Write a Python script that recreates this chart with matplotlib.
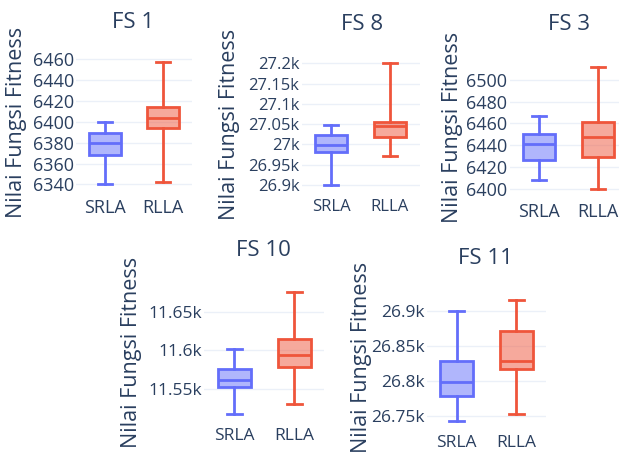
import matplotlib.pyplot as plt
from matplotlib.colors import to_rgb

plt.rcParams['font.family'] = ['Open Sans', 'DejaVu Sans']

judul = ['FS 1', 'FS 8', 'FS 3', 'FS 10', 'FS 11']
metode = ['SRLA', 'RLLA']

# ringkasan box: [min, q1, median, q3, max]
srla = [
    [6340, 6368, 6380, 6389, 6400],
    [26900, 26980, 26998, 27023, 27048],
    [6408, 6426, 6441, 6450, 6467],
    [11518, 11553, 11562, 11576, 11602],
    [26743, 26779, 26799, 26828, 26899],
]
rlla = [
    [6342, 6394, 6404, 6414, 6457],
    [26972, 27018, 27046, 27056, 27200],
    [6400, 6429, 6448, 6461, 6512],
    [11531, 11578, 11594, 11614, 11675],
    [26753, 26817, 26828, 26871, 26915],
]

yticks = [
    [6340, 6360, 6380, 6400, 6420, 6440, 6460],
    [26900, 26950, 27000, 27050, 27100, 27150, 27200],
    [6400, 6420, 6440, 6460, 6480, 6500],
    [11550, 11600, 11650],
    [26750, 26800, 26850, 26900],
]
ytick_labels = [
    ['6340', '6360', '6380', '6400', '6420', '6440', '6460'],
    ['26.9k', '26.95k', '27k', '27.05k', '27.1k', '27.15k', '27.2k'],
    ['6400', '6420', '6440', '6460', '6480', '6500'],
    ['11.55k', '11.6k', '11.65k'],
    ['26.75k', '26.8k', '26.85k', '26.9k'],
]
ylims = [
    (6333.6, 6463.2),
    (26885, 27215.5),
    (6394.2, 6517.5),
    (11510, 11683),
    (26734.4, 26923.6),
]

# posisi panel dalam piksel: x0, x1, y_atas, y_bawah
panel = [
    (76, 192, 56, 191),
    (301.5, 419.5, 57, 191),
    (509.5, 627.5, 61, 195),
    (204, 324, 286, 420),
    (426.75, 546.25, 294, 427),
]
judul_xy = [(133, 22), (362, 24), (569, 25), (263, 251), (485, 259)]
label_xy = [(17, 122), (230, 124), (453, 127), (132, 352), (362, 357)]
tick_size = [13, 12, 13, 12.5, 12.5]

W, H = 619, 459
warna_garis = ['#636efa', '#EF553B']
teks = '#2a3f5f'

fig = plt.figure(figsize=(W / 100, H / 100), dpi=100)

for i in range(5):
    x0, x1, yt, yb = panel[i]
    ax = fig.add_axes([x0 / W, 1 - yb / H, (x1 - x0) / W, (yb - yt) / H])
    for k, d in enumerate([srla[i], rlla[i]]):
        c = warna_garis[k]
        st = {'label': metode[k], 'whislo': d[0], 'q1': d[1], 'med': d[2],
              'q3': d[3], 'whishi': d[4], 'fliers': []}
        ax.bxp([st], positions=[k], widths=0.55, patch_artist=True,
               showfliers=False,
               boxprops=dict(facecolor=(*to_rgb(c), 0.5), edgecolor=c,
                             linewidth=2),
               medianprops=dict(color=c, linewidth=2),
               whiskerprops=dict(color=c, linewidth=2),
               capprops=dict(color=c, linewidth=2),
               capwidths=0.25, zorder=3)
    ax.set_xlim(-0.5, 1.5)
    ax.set_ylim(*ylims[i])
    ax.set_xticks([0, 1])
    ax.set_xticklabels(metode)
    ax.set_yticks(yticks[i])
    ax.set_yticklabels(ytick_labels[i])
    ax.tick_params(length=0, labelsize=tick_size[i], labelcolor=teks)
    ax.tick_params(axis='x', pad=6)
    ax.tick_params(axis='y', pad=1.5)
    ax.grid(axis='y', color='#ebf0f8', linewidth=1, zorder=0)
    ax.set_axisbelow(True)
    for s in ax.spines.values():
        s.set_visible(False)
    tx, ty = judul_xy[i]
    fig.text(tx / W, 1 - ty / H, judul[i], ha='center', va='center',
             fontsize=16, color=teks)
    lx, ly = label_xy[i]
    fig.text(lx / W, 1 - ly / H, 'Nilai Fungsi Fitness', ha='center',
             va='center', rotation=90, fontsize=15.5, color=teks)

fig.savefig('out.png', dpi=100)
